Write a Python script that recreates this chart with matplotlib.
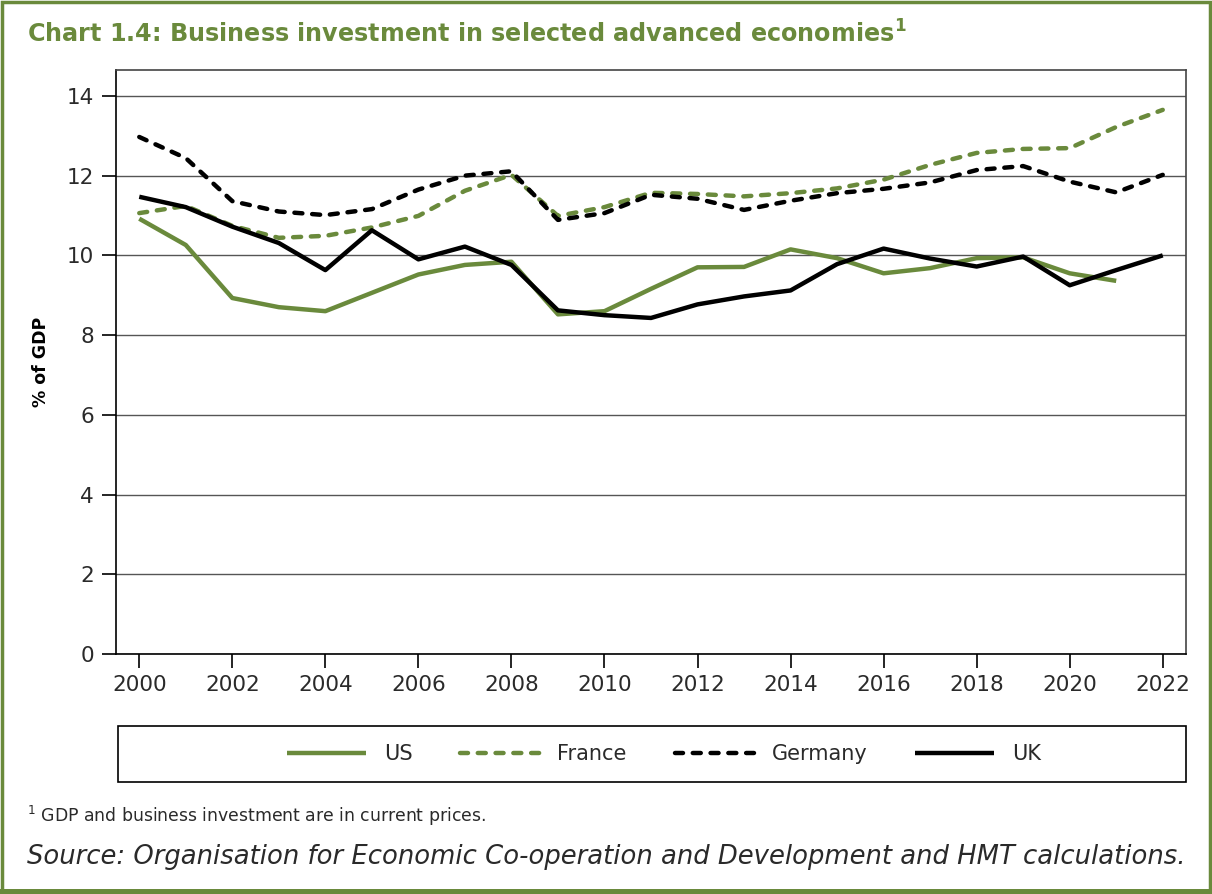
import matplotlib.pyplot as plt
from matplotlib.patches import Rectangle

plt.rcParams['font.family'] = ['DejaVu Sans']

years = list(range(2000, 2023))
us = [10.92, 10.26, 8.93, 8.70, 8.60, 9.06, 9.52, 9.76, 9.84, 8.52, 8.60, 9.16,
      9.70, 9.71, 10.15, 9.93, 9.55, 9.68, 9.93, 9.95, 9.55, 9.36]
france = [11.06, 11.24, 10.74, 10.44, 10.49, 10.70, 10.99, 11.62, 12.02, 10.99, 11.21, 11.57,
          11.54, 11.48, 11.56, 11.68, 11.90, 12.27, 12.57, 12.67, 12.69, 13.22, 13.65]
germany = [12.97, 12.44, 11.36, 11.10, 11.01, 11.16, 11.65, 12.00, 12.11, 10.89, 11.06, 11.52,
           11.42, 11.14, 11.37, 11.56, 11.67, 11.83, 12.14, 12.24, 11.85, 11.58, 12.02]
uk = [11.47, 11.21, 10.72, 10.31, 9.63, 10.63, 9.90, 10.22, 9.76, 8.62, 8.50, 8.43,
      8.77, 8.97, 9.12, 9.78, 10.17, 9.92, 9.72, 9.97, 9.25, 9.63, 10.00]

green = '#6a8a3c'
txt = '#2a2a2a'
W, H = 1212, 894

fig = plt.figure(figsize=(W / 100, H / 100), dpi=100)
ax = fig.add_axes([116 / W, 1 - 654 / H, (1186 - 116) / W, (654 - 70) / H])

dash = (0, (1.8, 2.2))
ax.plot(years[:len(us)], us, color=green, lw=3.2, label='US', solid_capstyle='butt')
ax.plot(years, france, color=green, lw=3.2, linestyle=dash, dash_capstyle='round', label='France')
ax.plot(years, germany, color='black', lw=3.2, linestyle=dash, dash_capstyle='round', label='Germany')
ax.plot(years, uk, color='black', lw=3.2, label='UK', solid_capstyle='butt')

ax.set_xlim(1999.5, 2022.5)
ax.set_ylim(0, 14.65)
ax.set_xticks(range(2000, 2023, 2))
ax.set_yticks(range(0, 15, 2))
ax.grid(axis='y', color='#555555', lw=1)
ax.set_axisbelow(True)
ax.tick_params(axis='both', direction='out', length=10, width=1.2, labelsize=15.5, color='black',
               labelcolor=txt)
ax.tick_params(axis='x', pad=5)
ax.tick_params(axis='y', pad=6)
for s in ax.spines.values():
    s.set_color('black')
    s.set_linewidth(1.2)
ax.spines['top'].set_color('#444444')
ax.spines['right'].set_color('#444444')
ax.set_ylabel('% of GDP', fontsize=12.5, fontweight='bold', labelpad=12)

# legend box
fig.patches.append(Rectangle((118 / W, 1 - 782 / H), (1186 - 118) / W, 56 / H,
                             transform=fig.transFigure, fill=False, edgecolor='black', lw=1.2))
leg = fig.legend(loc='center', bbox_to_anchor=(664 / W, 1 - 754 / H), ncol=4, frameon=False,
                 fontsize=15, handlelength=3.8, handletextpad=0.85, columnspacing=2.3)
for t in leg.get_texts():
    t.set_color(txt)

fig.text(27 / W, 1 - 34 / H, 'Chart 1.4: Business investment in selected advanced economies$^{\\mathregular{1}}$',
         fontsize=17.2, fontweight='bold', color=green, va='center', ha='left')
fig.text(27 / W, 1 - 816 / H, '$^{\\mathregular{1}}$ GDP and business investment are in current prices.',
         fontsize=12.4, color=txt, va='center', ha='left')
fig.text(27 / W, 1 - 857 / H,
         'Source: Organisation for Economic Co-operation and Development and HMT calculations.',
         fontsize=18.6, style='italic', color=txt, va='center', ha='left')

# green frame
fig.patches.append(Rectangle((2 / W, 2 / H), (W - 4) / W, (H - 4) / H, transform=fig.transFigure,
                             fill=False, edgecolor=green, lw=2.5))
fig.patches.append(Rectangle((0, 0), 1, 5 / H, transform=fig.transFigure, color=green, lw=0))

fig.savefig('out.png', dpi=100)
